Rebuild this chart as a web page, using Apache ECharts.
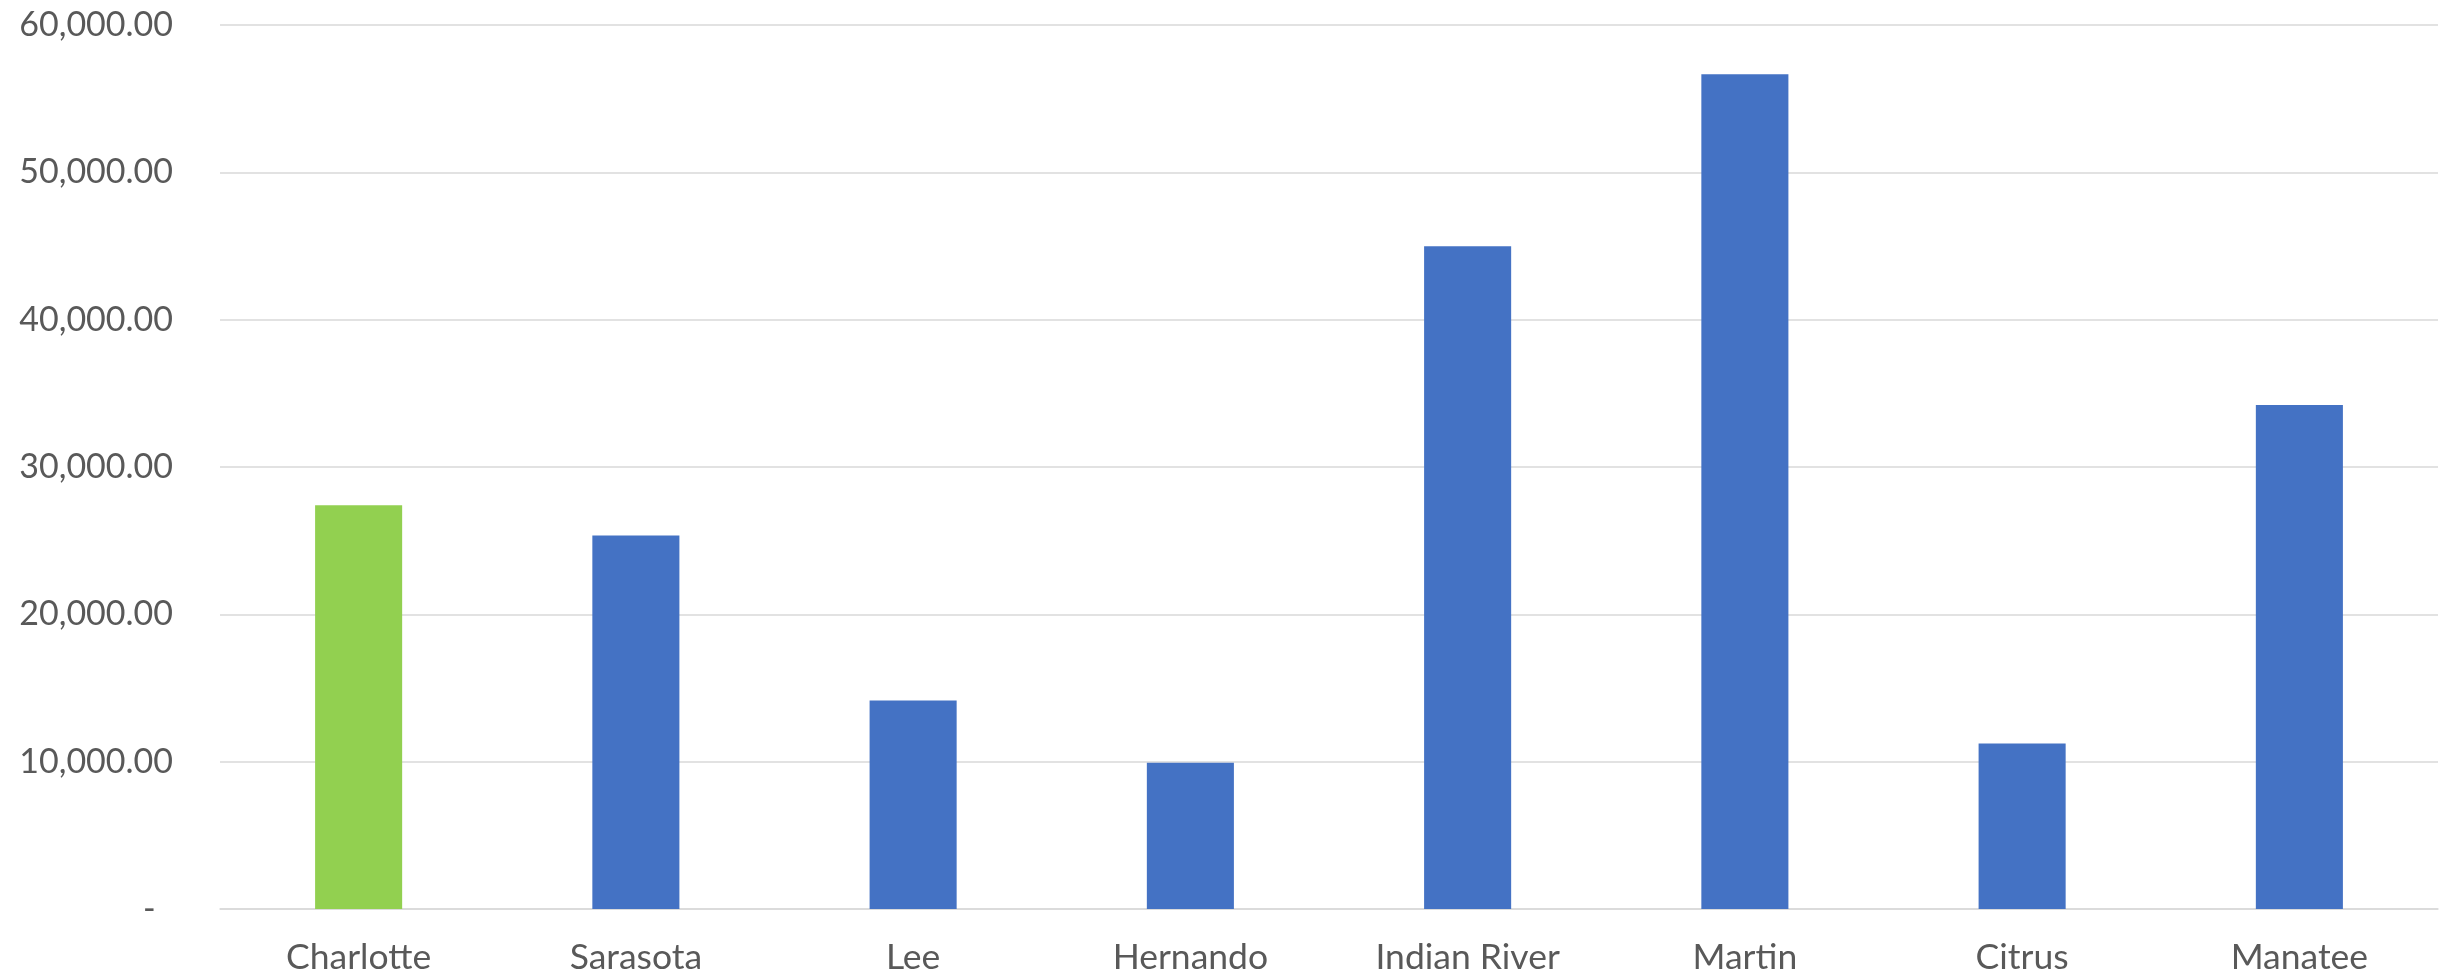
<!DOCTYPE html>
<html>
<head>
<meta charset="utf-8">
<title>County values</title>
<script src="https://cdn.jsdelivr.net/npm/echarts@6/dist/echarts.min.js"></script>
<style>
  html, body { margin: 0; padding: 0; background: #ffffff; }
  #chart { width: 2451px; height: 979px; }
</style>
</head>
<body>
<div id="chart"></div>
<script>
// Counties along the x axis and the value for each
const counties = ['Charlotte', 'Sarasota', 'Lee', 'Hernando', 'Indian River', 'Martin', 'Citrus', 'Manatee'];
const values = [27410, 25350, 14160, 9925, 44980, 56650, 11240, 34210];
// Charlotte is highlighted in green, the rest are blue
const highlighted = ['Charlotte'];

const BLUE = '#4472C4';
const GREEN = '#92D050';
const TEXT = '#595959';
const FONT = 'Lato';

function formatTick(v) {
  if (v === 0) return '-  ';
  return v.toLocaleString('en-US', { minimumFractionDigits: 2, maximumFractionDigits: 2 });
}

const chart = echarts.init(document.getElementById('chart'), null, { renderer: 'canvas' });

chart.setOption({
  animation: false,
  backgroundColor: '#ffffff',
  grid: { left: 220, right: 13, top: 25, bottom: 70, containLabel: false },
  xAxis: {
    type: 'category',
    data: counties,
    axisLine: { show: true, lineStyle: { color: '#D9D9D9', width: 1.5 } },
    axisTick: { show: false },
    axisLabel: {
      color: TEXT,
      fontFamily: FONT,
      fontSize: 35.5,
      margin: 31
    }
  },
  yAxis: {
    type: 'value',
    min: 0,
    max: 60000,
    interval: 10000,
    axisLine: { show: false },
    axisTick: { show: false },
    splitLine: { show: true, lineStyle: { color: '#D9D9D9', width: 1.5 } },
    axisLabel: {
      color: TEXT,
      fontFamily: FONT,
      fontSize: 34,
      margin: 47,
      formatter: formatTick
    }
  },
  series: [{
    type: 'bar',
    barWidth: '31.4%',
    data: values.map((v, i) => ({
      value: v,
      itemStyle: { color: highlighted.includes(counties[i]) ? GREEN : BLUE }
    }))
  }]
});
</script>
</body>
</html>
